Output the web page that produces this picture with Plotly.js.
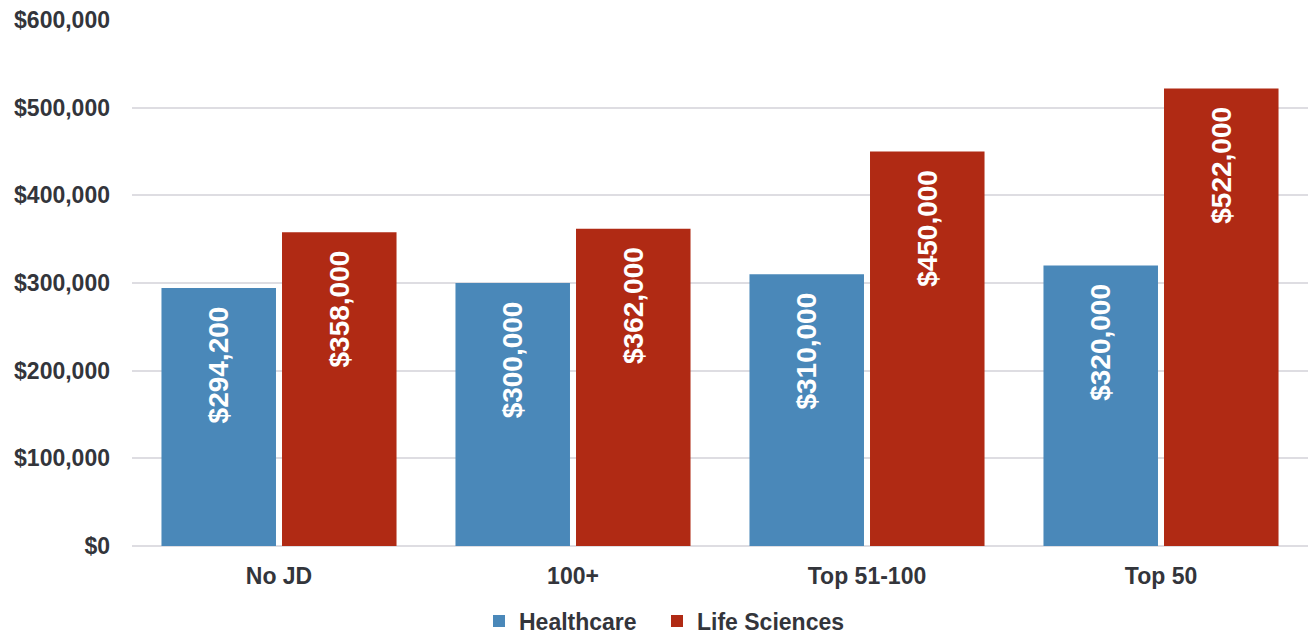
<!DOCTYPE html>
<html>
<head>
<meta charset="utf-8">
<script src="https://cdn.plot.ly/plotly-3.0.1.min.js"></script>
<style>
  html, body { margin: 0; padding: 0; background: #ffffff; }
  #chart { width: 1312px; height: 636px; }
</style>
</head>
<body>
<div id="chart"></div>
<script>
// Compensation by law-school tier, Healthcare vs Life Sciences
const categories = ['No JD', '100+', 'Top 51-100', 'Top 50'];
const healthcare = [294200, 300000, 310000, 320000];
const lifeSciences = [358000, 362000, 450000, 522000];
const seriesNames = ['Healthcare', 'Life Sciences'];
const yTicks = [0, 100000, 200000, 300000, 400000, 500000, 600000];

const textColor = '#33353b';
const fontFamily = 'Liberation Sans, Arial, sans-serif';

// Trailing non-breaking spaces keep the rotated label a little below the bar top
const labelTemplate = '%{y:$,.0f}\u00a0\u00a0';

function barTrace(name, values, color, legendId) {
  return {
    type: 'bar',
    name: name,
    x: categories,
    y: values,
    legend: legendId,
    marker: { color: color },
    texttemplate: labelTemplate,
    textposition: 'inside',
    insidetextanchor: 'end',
    textangle: -90,
    constraintext: 'none',
    textfont: { family: fontFamily, size: 28, color: '#ffffff', weight: 'bold' },
    hoverinfo: 'x+y+name'
  };
}

const data = [
  barTrace(seriesNames[0], healthcare, '#4a88b9', 'legend'),
  barTrace(seriesNames[1], lifeSciences, '#b02a14', 'legend2')
];

// One legend entry per series, each placed on its own below the plot
function legendAt(xFrac) {
  return {
    orientation: 'h',
    xref: 'container',
    yref: 'container',
    x: xFrac,
    xanchor: 'left',
    y: 0.0236,
    yanchor: 'middle',
    font: { family: fontFamily, size: 23, color: textColor, weight: 'bold' }
  };
}

const layout = {
  width: 1312,
  height: 636,
  margin: { l: 132, r: 4, t: 20, b: 90 },
  paper_bgcolor: '#ffffff',
  plot_bgcolor: '#ffffff',
  barmode: 'group',
  bargap: 0.18,
  bargroupgap: 0.05,
  font: { family: fontFamily, color: textColor },
  xaxis: {
    type: 'category',
    showgrid: false,
    showline: false,
    zeroline: false,
    ticks: '',
    tickfont: { family: fontFamily, size: 23, color: textColor, weight: 'bold' },
    ticklabelstandoff: 14
  },
  yaxis: {
    range: [0, 600000],
    tickvals: yTicks,
    tickformat: '$,.0f',
    showgrid: true,
    gridcolor: '#dedde2',
    gridwidth: 2,
    zeroline: true,
    zerolinecolor: '#dedde2',
    zerolinewidth: 2,
    showline: false,
    ticks: '',
    tickfont: { family: fontFamily, size: 23, color: textColor, weight: 'bold' },
    ticklabelstandoff: 21
  },
  legend: legendAt(479 / 1312),
  legend2: legendAt(657 / 1312),
  showlegend: true
};

Plotly.newPlot('chart', data, layout, { displayModeBar: false, staticPlot: true });
</script>
</body>
</html>
